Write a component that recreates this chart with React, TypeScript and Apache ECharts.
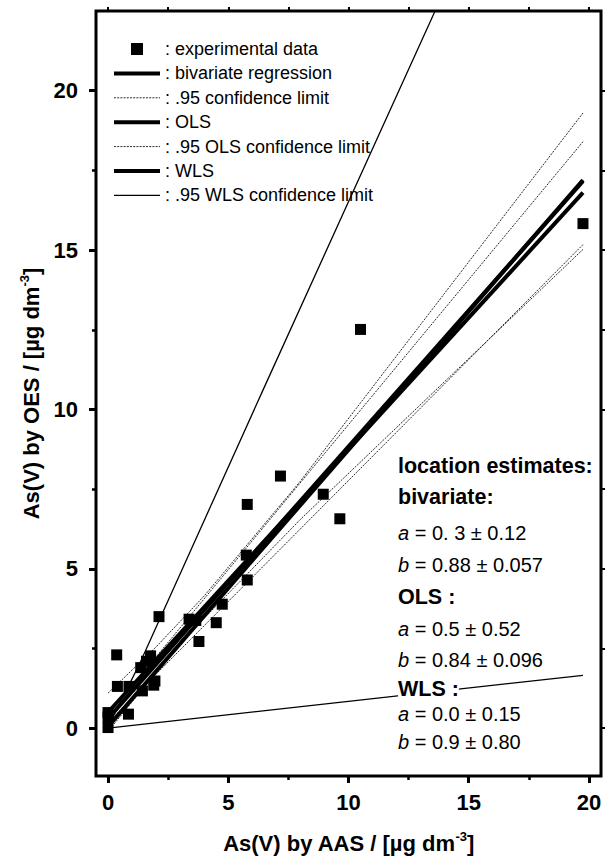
import React, { useEffect, useRef } from 'react';
import * as echarts from 'echarts';

const FONT = '"Liberation Sans", Arial, Helvetica, sans-serif';

// experimental data
const sampleX = [0, 0, 0, 0.36, 0.39, 0.85, 0.87, 1.36, 1.43, 1.6, 1.77, 1.9, 1.95, 2.12, 3.37, 3.65, 3.78, 4.5, 4.75, 5.75, 5.79, 5.79, 7.17, 8.95, 9.64, 10.5, 19.75];
const sampleY = [0.02, 0.35, 0.49, 2.3, 1.31, 0.44, 1.31, 1.9, 1.17, 2.1, 2.27, 1.35, 1.48, 3.5, 3.42, 3.38, 2.72, 3.31, 3.89, 5.43, 4.65, 7.02, 7.91, 7.34, 6.57, 12.51, 15.83];

// regression lines
const bivX = [0, 19.75];
const bivY = [0.3, 17.16];
const olsX = [0, 19.75];
const olsY = [0.5, 16.8];
const wlsX = [0, 19.75];
const wlsY = [0.05, 17.2];

// .95 confidence limits (bivariate)
const bivUpX = [0, 19.75];
const bivUpY = [0.42, 18.4];
const bivLoX = [0, 19.75];
const bivLoY = [0.18, 15.17];

// .95 OLS confidence limits
const olsUpX = [0, 2, 4, 8, 19.75];
const olsUpY = [1.1, 2.55, 4.15, 7.75, 19.3];
const olsLoX = [0, 2, 4, 8, 19.75];
const olsLoY = [-0.1, 1.75, 3.45, 6.55, 15.02];

// .95 WLS confidence limits
const wlsUpX = [0, 1.3, 6.5, 13.6];
const wlsUpY = [0.05, 2.0, 10.7, 22.5];
const wlsLoX = [0, 19.75];
const wlsLoY = [0.0, 1.66];

// axes
const X_MIN = -0.5;
const X_MAX = 20.5;
const Y_MIN = -1.5;
const Y_MAX = 22.5;
const majorTicks = [0, 5, 10, 15, 20];
const minorTicks = [2.5, 7.5, 12.5, 17.5];
const allTicks = [0, 2.5, 5, 7.5, 10, 12.5, 15, 17.5, 20];

// annotation text
const statLines = [
  '{h|location estimates:}',
  '{h|bivariate:}',
  '{i|a}{r| = 0. 3 ± 0.12}',
  '{i|b}{r| = 0.88 ± 0.057}',
  '{h|OLS :}',
  '{i|a}{r| = 0.5 ± 0.52}',
  '{i|b}{r| = 0.84 ± 0.096}',
  '{h|WLS :}',
  '{i|a}{r| = 0.0 ± 0.15}',
  '{i|b}{r| = 0.9 ± 0.80}',
];
const statYs = [466, 497, 533, 565, 597, 629, 660, 689, 714, 742];

const legendNames = [
  'experimental data', 'bivariate regression', '.95 confidence limit', 'OLS',
  '.95 OLS confidence limit', 'WLS', '.95 WLS confidence limit',
];

const zip = (xs: number[], ys: number[]) => xs.map((x, i) => [x, ys[i]]);

const thick = (name: string, xs: number[], ys: number[]) => ({
  type: 'line', name, data: zip(xs, ys), symbol: 'none', z: 3,
  lineStyle: { color: '#000', width: 4 }, itemStyle: { color: '#000' },
});
const dotted = (name: string, xs: number[], ys: number[]) => ({
  type: 'line', name, data: zip(xs, ys), symbol: 'none', z: 2,
  lineStyle: { color: '#111', width: 0.9, type: [2, 1.2] }, itemStyle: { color: '#111' },
});
const thin = (name: string, xs: number[], ys: number[]) => ({
  type: 'line', name, data: zip(xs, ys), symbol: 'none', z: 2,
  lineStyle: { color: '#000', width: 1.3 }, itemStyle: { color: '#000' },
});

const nameStyle = {
  fontFamily: FONT, fontWeight: 'bold', fontSize: 22, color: '#000',
  rich: {
    n: { fontFamily: FONT, fontWeight: 'bold', fontSize: 22, lineHeight: 26, color: '#000' },
    s: { fontFamily: FONT, fontWeight: 'bold', fontSize: 13, lineHeight: 12, verticalAlign: 'top', color: '#000' },
  },
};
const labelStyle = { fontFamily: FONT, fontWeight: 'bold', fontSize: 22, color: '#000' };

const baseX = {
  type: 'value', min: X_MIN, max: X_MAX,
  axisLine: { show: false, onZero: false }, splitLine: { show: false },
  axisLabel: { show: false }, axisTick: { show: false },
};
const baseY = {
  type: 'value', min: Y_MIN, max: Y_MAX,
  axisLine: { show: false, onZero: false }, splitLine: { show: false },
  axisLabel: { show: false }, axisTick: { show: false },
};

const option: any = {
  animation: false,
  backgroundColor: '#fff',
  grid: { left: 96, top: 11, width: 505, height: 765, show: true, borderColor: '#000', borderWidth: 3, backgroundColor: 'transparent' },
  xAxis: [
    {
      ...baseX, position: 'bottom',
      axisTick: { show: true, customValues: majorTicks, length: 7, lineStyle: { color: '#000', width: 3 } },
      axisLabel: { show: true, customValues: majorTicks, margin: 15, ...labelStyle },
      name: '{n|As(V) by AAS / [µg dm}{s|-3}{n|]}', nameLocation: 'middle', nameGap: 54, nameTextStyle: nameStyle,
    },
    { ...baseX, position: 'bottom', axisTick: { show: true, customValues: minorTicks, length: 4, lineStyle: { color: '#000', width: 2.5 } } },
    { ...baseX, position: 'top', axisTick: { show: true, customValues: allTicks, length: 4, lineStyle: { color: '#000', width: 2 } } },
  ],
  yAxis: [
    {
      ...baseY, position: 'left',
      axisTick: { show: true, customValues: majorTicks, length: 7, lineStyle: { color: '#000', width: 3 } },
      axisLabel: { show: true, customValues: majorTicks, margin: 18, ...labelStyle },
      name: '{n|As(V) by OES / [µg dm}{s|-3}{n|]}', nameLocation: 'middle', nameGap: 52, nameTextStyle: nameStyle,
    },
    { ...baseY, position: 'left', axisTick: { show: true, customValues: minorTicks, length: 4, lineStyle: { color: '#000', width: 2.5 } } },
    { ...baseY, position: 'right', axisTick: { show: true, customValues: allTicks, length: 4, lineStyle: { color: '#000', width: 2 } } },
  ],
  legend: {
    orient: 'vertical', left: 112, top: 40, padding: 0,
    itemWidth: 46, itemHeight: 12, itemGap: 6.4,
    selectedMode: false,
    data: legendNames.map((n, i) =>
      i === 0
        ? { name: n, icon: 'path://M0 0H10V10H0Z' }
        : { name: n, itemStyle: { opacity: 0 } }
    ),
    formatter: (n: string) => ': ' + n,
    textStyle: { fontFamily: FONT, fontSize: 18, lineHeight: 18, color: '#000' },
    lineStyle: { width: 'inherit' },
  },
  series: [
    thick('bivariate regression', bivX, bivY),
    dotted('.95 confidence limit', bivUpX, bivUpY),
    dotted('.95 confidence limit', bivLoX, bivLoY),
    thick('OLS', olsX, olsY),
    dotted('.95 OLS confidence limit', olsUpX, olsUpY),
    dotted('.95 OLS confidence limit', olsLoX, olsLoY),
    thick('WLS', wlsX, wlsY),
    thin('.95 WLS confidence limit', wlsUpX, wlsUpY),
    thin('.95 WLS confidence limit', wlsLoX, wlsLoY),
    {
      type: 'scatter', name: 'experimental data', data: zip(sampleX, sampleY),
      symbol: 'rect', symbolSize: 11, z: 4, itemStyle: { color: '#000', opacity: 1 },
    },
  ],
  graphic: statLines.map((t, i) => ({
    type: 'text', x: 398, y: statYs[i], z: 100,
    style: {
      text: t, verticalAlign: 'middle', backgroundColor: '#fff',
      rich: {
        h: { fontFamily: FONT, fontWeight: 'bold', fontSize: 21.5, color: '#000' },
        i: { fontFamily: FONT, fontStyle: 'italic', fontSize: 20, color: '#000' },
        r: { fontFamily: FONT, fontSize: 20, color: '#000' },
      },
    },
  })),
};

export default function App() {
  const ref = useRef<HTMLDivElement>(null);
  useEffect(() => {
    const chart = echarts.init(ref.current!, null, { renderer: 'svg' });
    chart.setOption(option);
    return () => chart.dispose();
  }, []);
  return <div ref={ref} style={{ position: 'absolute', left: 0, top: 0, width: 615, height: 861, background: '#fff' }} />;
}
